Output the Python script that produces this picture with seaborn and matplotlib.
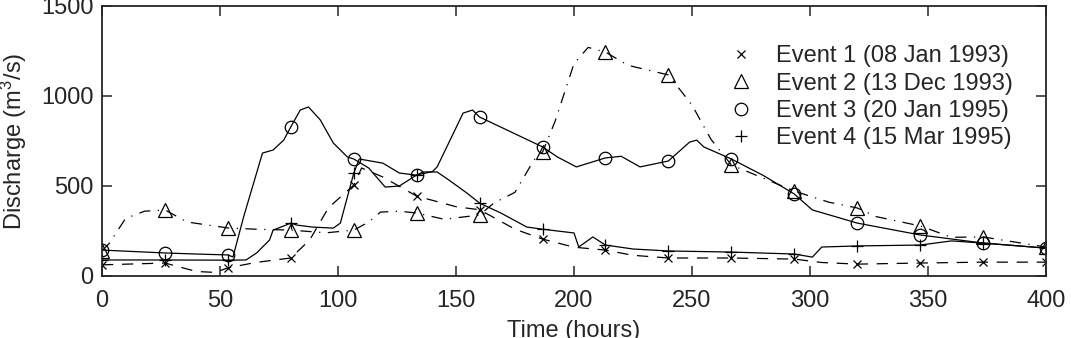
import matplotlib
matplotlib.use("Agg")
import matplotlib.pyplot as plt
from matplotlib.lines import Line2D
import seaborn as sns

# hours at which the markers sit (every 26.7 h)
marker_times = [0, 26.7, 53.3, 80, 106.7, 133.3, 160, 186.7, 213.3, 240,
                266.7, 293.3, 320, 346.7, 373.3, 400]

labels = ["Event 1 (08 Jan 1993)", "Event 2 (13 Dec 1993)",
          "Event 3 (20 Jan 1995)", "Event 4 (15 Mar 1995)"]

# Event 1 - 08 Jan 1993
t1 = [0, 26.7, 40, 48, 53.3, 65, 80, 88, 96, 106.7, 110, 119, 133.3, 150, 160,
      175, 186.7, 200, 213.3, 225, 240, 266.7, 293.3, 305, 320, 346.7, 373.3, 400]
q1 = [62, 72, 25, 20, 45, 75, 100, 200, 380, 505, 600, 550, 444, 385, 368,
      260, 205, 160, 144, 115, 100, 100, 94, 75, 66, 72, 77, 77]

# Event 2 - 13 Dec 1993
t2 = [0, 3, 10, 18, 26.7, 36, 53.3, 65, 80, 95, 106.7, 113, 118, 126, 133.3,
      145, 160, 166, 175, 183, 186.7, 192, 200, 206, 213.3, 223, 240, 250, 258,
      266.7, 293.3, 308, 320, 328, 346.7, 360, 373.3, 400]
q2 = [140, 180, 320, 360, 367, 300, 267, 260, 255, 240, 255, 300, 355, 360, 350,
      315, 339, 405, 465, 644, 689, 860, 1180, 1270, 1244, 1170, 1117, 950, 760,
      617, 472, 410, 378, 330, 278, 215, 217, 161]

# Event 3 - 20 Jan 1995
t3 = [0, 10, 26.7, 40, 53.3, 55.5, 60, 68, 72.5, 77, 80, 84, 87.5, 92.5, 98, 104,
      106.7, 113, 120, 126, 133.3, 140, 142, 147.5, 153, 157, 160, 171.6, 186.7,
      193, 201, 213.3, 220, 228, 240, 249, 252, 255, 266.7, 280, 293.3, 301, 320,
      346.7, 373.3, 400]
q3 = [144, 138, 128, 122, 117, 106, 328, 683, 700, 755, 828, 922, 939, 867, 739, 661,
      650, 600, 494, 500, 561, 580, 606, 755, 905, 922, 883, 811, 717,
      661, 606, 656, 665, 606, 639, 744, 755, 717, 650, 560, 456, 367, 294,
      228, 183, 155]

# Event 4 - 15 Mar 1995
t4 = [0, 26.7, 53.3, 61, 65.5, 71, 72.5, 78, 80, 82.5, 89, 98, 101, 106.7, 109,
      119, 126, 133.3, 136, 142, 147, 154.6, 160, 169, 180, 186.7, 200, 202, 208,
      213.3, 225, 240, 266.7, 293.3, 301, 305, 320, 346.7, 360, 373.3, 400]
q4 = [89, 89, 88, 89, 128, 200, 255, 283, 294, 283, 272, 266, 294, 572, 650,
      627, 572, 560, 578, 578, 533, 461, 405, 350, 272, 260, 239, 161, 217,
      172, 150, 139, 133, 122, 105, 161, 167, 172, 195, 183, 155]

events = [
    (t1, q1, "x", 6.0, (0, (9, 7))),
    (t2, q2, "^", 9.5, (0, (9, 6, 1, 6))),
    (t3, q3, "o", 9.0, "-"),
    (t4, q4, "+", 9.0, "-"),
]

sns.set_style("ticks")
plt.rcParams["font.family"] = ["Liberation Sans", "DejaVu Sans"]
plt.rcParams["mathtext.fontset"] = "custom"
plt.rcParams["mathtext.rm"] = "Liberation Sans"
plt.rcParams["mathtext.it"] = "Liberation Sans"

fs = 17
fig = plt.figure(figsize=(10.71, 3.38), dpi=100)
ax = fig.add_axes([102 / 1071, 1 - 276 / 338, 944 / 1071, 270 / 338])

for t, q, mk, ms, ls in events:
    every = [i for i, v in enumerate(t) if v in marker_times]
    sns.lineplot(x=t, y=q, ax=ax, color="black", linewidth=0.9, linestyle=ls,
                 marker=mk, markersize=ms, markevery=every, markerfacecolor="none",
                 markeredgecolor="black", markeredgewidth=0.9,
                 estimator=None, sort=False, legend=False)

ax.set_xlim(0, 400)
ax.set_ylim(0, 1500)
ax.set_xticks([0, 50, 100, 150, 200, 250, 300, 350, 400])
ax.set_yticks([0, 500, 1000, 1500])
ax.tick_params(direction="in", length=7, width=1.1, top=True, right=True,
               labelsize=fs)
ax.tick_params(axis="x", pad=10)
ax.tick_params(axis="y", pad=6)
for s in ax.spines.values():
    s.set_linewidth(1.3)
ax.set_xlabel("Time (hours)", fontsize=fs, labelpad=6)
ax.set_ylabel("Discharge (m$^3$/s)", fontsize=fs, labelpad=9)

handles = [Line2D([], [], linestyle="none", marker=mk, markersize=ms,
                  markerfacecolor="none", markeredgecolor="black",
                  markeredgewidth=0.9, color="black")
           for _, _, mk, ms, _ in events]
ax.legend(handles, labels, loc="upper left", bbox_to_anchor=(0.664, 0.855),
          frameon=False, fontsize=fs, handlelength=1.0, handletextpad=1.0,
          labelspacing=0.23, borderpad=0, borderaxespad=0)

fig.savefig("out.png", dpi=100)
